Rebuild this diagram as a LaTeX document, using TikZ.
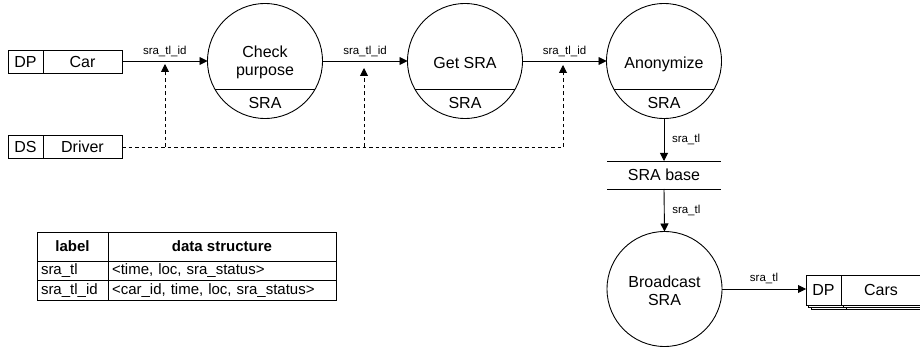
\documentclass[tikz,border=0pt]{standalone}
\usepackage{fontspec}
\setmainfont{Liberation Sans}
\usetikzlibrary{arrows.meta,calc}
\begin{document}
\begin{tikzpicture}[x=1pt,y=-1pt,
  every node/.style={inner sep=0pt, outer sep=0pt},
  main/.style={font=\fontsize{16}{18}\selectfont},
  lbl/.style={font=\fontsize{11.5}{13}\selectfont},
  cell/.style={draw, rectangle, main, line width=0.9pt},
  proc/.style={draw, circle, line width=0.9pt, minimum size=115pt},
  ln/.style={line width=0.9pt},
  tip/.style={-{Triangle[length=8pt,width=8pt]}},
  arr/.style={line width=0.9pt, tip},
  dsh/.style={line width=0.9pt, dash pattern=on 3.5pt off 3pt},
  tcell/.style={draw, rectangle, line width=0.8pt, font=\fontsize{15}{17}\selectfont},
  thead/.style={tcell, font=\fontsize{15}{17}\selectfont\bfseries},
  tleft/.style={tcell, align=left, inner xsep=4pt, minimum height=19.5pt},
]
\useasboundingbox (0,0) rectangle (920,347);

% external entities
\node[cell, minimum width=35pt, minimum height=23pt] (dp1) at (25.5,62) {DP};
\node[cell, minimum width=79pt, minimum height=23pt, anchor=west] (car) at (dp1.east) {Car};
\node[cell, minimum width=35pt, minimum height=23pt] (ds) at (25.5,147) {DS};
\node[cell, minimum width=79pt, minimum height=23pt, anchor=west] (driver) at (ds.east) {Driver};

% processes
\node[proc] (check) at (265,61) {};
\node[main, align=center] (checkt) at (265,62) {Check\\purpose};
\node[main] (checks) at (265,103) {SRA};
\draw[ln] (check.210) -- (check.330);

\node[proc] (get) at (465,61) {};
\node[main] (gett) at (465,63) {Get SRA};
\node[main] (gets) at (465,103) {SRA};
\draw[ln] (get.210) -- (get.330);

\node[proc] (anon) at (664,61) {};
\node[main] (anont) at (664,64) {Anonymize};
\node[main] (anons) at (664,103) {SRA};
\draw[ln] (anon.210) -- (anon.330);

% data store
\node[main, minimum width=114pt, minimum height=28pt] (sbase) at (664,175) {SRA base};
\draw[ln] (sbase.north west) -- (sbase.north east);
\draw[ln] (sbase.south west) -- (sbase.south east);

\node[proc] (bcast) at (664.5,289) {};
\node[main, align=center] (bcastt) at (664.5,291) {Broadcast\\SRA};

% stacked entity Cars
\draw[ln, fill=white] (811,279) rectangle (846,309);
\draw[ln, fill=white] (846,279) rectangle (926,309);
\draw[ln, fill=white] (808.5,277) rectangle (843.5,307);
\draw[ln, fill=white] (843.5,277) rectangle (923.5,307);
\node[cell, minimum width=35pt, minimum height=30pt, fill=white] (cdp) at (823.5,290) {DP};
\node[cell, minimum width=80pt, minimum height=30pt, fill=white, anchor=west] (cars) at (cdp.east) {Cars};

% flows
\draw[arr] (car.east |- check.west) -- (check.west)
  node[lbl, midway, above=4pt] (l1) {sra\_tl\_id};
\draw[arr] (check.east) -- (get.west)
  node[lbl, midway, above=4pt] (l2) {sra\_tl\_id};
\draw[arr] (get.east) -- (anon.west)
  node[lbl, midway, above=4pt] (l3) {sra\_tl\_id};
\draw[arr] (anon.south) -- (sbase.north)
  node[lbl, midway, right=8pt] (l4) {sra\_tl};
\draw[arr] (sbase.south) -- (bcast.north)
  node[lbl, midway, right=8pt] (l5) {sra\_tl};
\draw[arr] (bcast.east) -- (bcast.east -| cdp.west)
  node[lbl, midway, above=5pt] (l6) {sra\_tl};

% dashed driver flows
\coordinate (j1) at (165,147);
\coordinate (j2) at (364,147);
\coordinate (j3) at (563,147);
\coordinate (t1) at (165,64);
\coordinate (t2) at (364,68);
\coordinate (t3) at (563,65);
\draw[dsh] (driver.east) -- (j3);
\draw[dsh, tip] (j3) -- (t3);
\draw[dsh, tip] (j1) -- (t1);
\draw[dsh, tip] (j2) -- (t2);

% legend table
\node[thead, minimum width=71pt, minimum height=29pt] (h1) at (72.5,246.5) {label};
\node[thead, minimum width=228pt, minimum height=29pt] (h2) at (222,246.5) {data structure};
\node[tleft, text width=63pt] (a1) at (72.5,270.75) {sra\_tl};
\node[tleft, text width=220pt] (a2) at (222,270.75) {<time, loc, sra\_status>};
\node[tleft, text width=63pt] (b1) at (72.5,290.25) {sra\_tl\_id};
\node[tleft, text width=220pt] (b2) at (222,290.25) {<car\_id, time, loc, sra\_status>};
\end{tikzpicture}
\end{document}
